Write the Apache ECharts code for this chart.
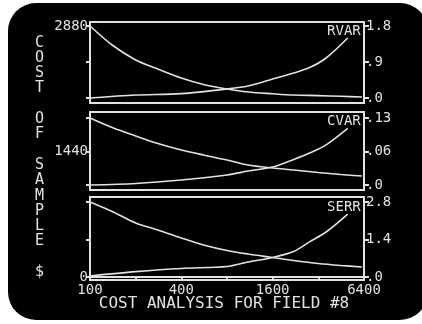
<!DOCTYPE html>
<html>
<head>
<meta charset="utf-8">
<script src="https://cdn.jsdelivr.net/npm/echarts@6/dist/echarts.min.js"></script>
<style>
  html, body { margin: 0; padding: 0; background: #fff; }
  #screen { position: absolute; left: 8px; top: 3px; width: 420px; height: 317px; background: #000; border-radius: 28px; }
  #chart { position: absolute; left: 0; top: 0; width: 422px; height: 324px; }
</style>
</head>
<body>
<div id="screen"></div>
<div id="chart"></div>
<script>
// x: cost per sample, doubling steps
const xTicks = [100, 200, 400, 800, 1600, 3200, 6400];
const xLabels = [100, 400, 1600, 6400];

// cost of sample curves (left scale 0..2880), one per panel
const costX = [100, 140, 200, 280, 400, 560, 800, 1100, 1600, 2200, 3200, 4500, 6200];
const costRvar = [2880, 2120, 1520, 1160, 800, 540, 360, 240, 170, 120, 96, 68, 40];
const costCvar = [2880, 2472, 2107, 1784, 1505, 1290, 1075, 860, 731, 645, 537, 451, 387];
const costSerr = [2880, 2515, 2074, 1805, 1498, 1229, 1018, 883, 749, 634, 518, 442, 384];

// variance curves (right scale of each panel)
const varX = [100, 200, 400, 800, 1100, 1600, 2200, 2800, 3600, 5000];
const rvar = [0, 0.075, 0.11, 0.225, 0.3, 0.475, 0.625, 0.76, 1.0, 1.5];
const cvar = [0, 0.003, 0.0097, 0.0194, 0.027, 0.035, 0.0495, 0.062, 0.078, 0.11];
const serr = [0.04, 0.2, 0.32, 0.39, 0.56, 0.73, 0.95, 1.31, 1.68, 2.35];

const leftTicks = [0, 1440, 2880];
const rvarTicks = [0, 0.9, 1.8];
const rvarLabels = ['.0', '.9', '1.8'];
const cvarTicks = [0, 0.065, 0.13];
const cvarLabels = ['.0', '.06', '.13'];
const serrTicks = [0, 1.4, 2.8];
const serrLabels = ['.0', '1.4', '2.8'];

const FG = '#e2e2e2';
const FONT = 'DejaVu Sans Mono';

const panels = [
  {name: 'RVAR', cost: costRvar, vals: rvar, ticks: rvarTicks, labels: rvarLabels, leftLabel: [2880], top: 22, height: 81, padTop: 4, padBottom: 5},
  {name: 'CVAR', cost: costCvar, vals: cvar, ticks: cvarTicks, labels: cvarLabels, leftLabel: [1440], top: 112, height: 78, padTop: 6, padBottom: 5},
  {name: 'SERR', cost: costSerr, vals: serr, ticks: serrTicks, labels: serrLabels, leftLabel: [0], top: 197, height: 83, padTop: 5, padBottom: 3}
];

// axis range so that 0..max sits inside the box with small gaps
function padRange(maxV, p) {
  const per = maxV / (p.height - p.padTop - p.padBottom);
  return [-p.padBottom * per, maxV + p.padTop * per];
}

const grid = [], xAxis = [], yAxis = [], series = [];
panels.forEach((p, i) => {
  grid.push({left: 90, right: 58, top: p.top, height: p.height, show: true,
    borderColor: FG, borderWidth: 2, backgroundColor: 'transparent'});
  const last = i === panels.length - 1;
  xAxis.push({
    type: 'log', logBase: 2, min: 100, max: 6400, gridIndex: i,
    axisLine: {show: last, lineStyle: {color: FG, width: 2}},
    axisTick: {show: last, customValues: xTicks, length: 3, lineStyle: {color: FG, width: 2}},
    axisLabel: {show: last, customValues: xLabels, margin: 3, color: FG, fontSize: 14, fontFamily: FONT,
      formatter: v => String(Math.round(v))},
    splitLine: {show: false}, minorTick: {show: false}
  });
  const lr = padRange(2880, p);
  yAxis.push({
    type: 'value', gridIndex: i, position: 'left', min: lr[0], max: lr[1],
    axisLine: {show: true, lineStyle: {color: FG, width: 2}},
    axisTick: {show: true, customValues: leftTicks, length: 4, lineStyle: {color: FG, width: 2}},
    axisLabel: {customValues: p.leftLabel, margin: 2, color: FG, fontSize: 14, fontFamily: FONT,
      formatter: v => String(Math.round(v))},
    splitLine: {show: false}
  });
  const rr = padRange(p.ticks[2], p);
  yAxis.push({
    type: 'value', gridIndex: i, position: 'right', min: rr[0], max: rr[1],
    axisLine: {show: true, lineStyle: {color: FG, width: 2}},
    axisTick: {show: true, customValues: p.ticks, length: 5, lineStyle: {color: FG, width: 2}},
    axisLabel: {customValues: p.ticks, margin: 2, color: FG, fontSize: 14, fontFamily: FONT,
      formatter: v => {
        let k = 0;
        p.ticks.forEach((t, j) => { if (Math.abs(t - v) < Math.abs(p.ticks[k] - v)) k = j; });
        return p.labels[k];
      }},
    splitLine: {show: false}
  });
  series.push({
    type: 'line', xAxisIndex: i, yAxisIndex: 2 * i, smooth: 0.3, symbol: 'none',
    lineStyle: {color: FG, width: 1.6},
    data: costX.map((x, j) => [x, p.cost[j]])
  });
  series.push({
    type: 'line', name: p.name, xAxisIndex: i, yAxisIndex: 2 * i + 1, smooth: 0.3, symbol: 'none',
    lineStyle: {color: FG, width: 1.6},
    data: varX.map((x, j) => [x, p.vals[j]]),
    endLabel: {show: true, formatter: p.name, color: FG, fontSize: 14, fontFamily: FONT,
      align: 'right', offset: [5, -7]}
  });
});

const chart = echarts.init(document.getElementById('chart'), null, {renderer: 'canvas'});
chart.setOption({
  backgroundColor: 'transparent',
  animation: false,
  grid, xAxis, yAxis, series,
  graphic: [
    {type: 'text', left: 35, top: 35,
      style: {text: 'C\nO\nS\nT\n\nO\nF\n\nS\nA\nM\nP\nL\nE\n\n$', fill: FG,
        font: '15px "DejaVu Sans Mono"', lineHeight: 15.3, align: 'center'}},
    {type: 'text', x: 224, y: 304,
      style: {text: 'COST ANALYSIS FOR FIELD #8', fill: FG, font: '16px "DejaVu Sans Mono"',
        align: 'center', verticalAlign: 'middle'}}
  ]
});
</script>
</body>
</html>
